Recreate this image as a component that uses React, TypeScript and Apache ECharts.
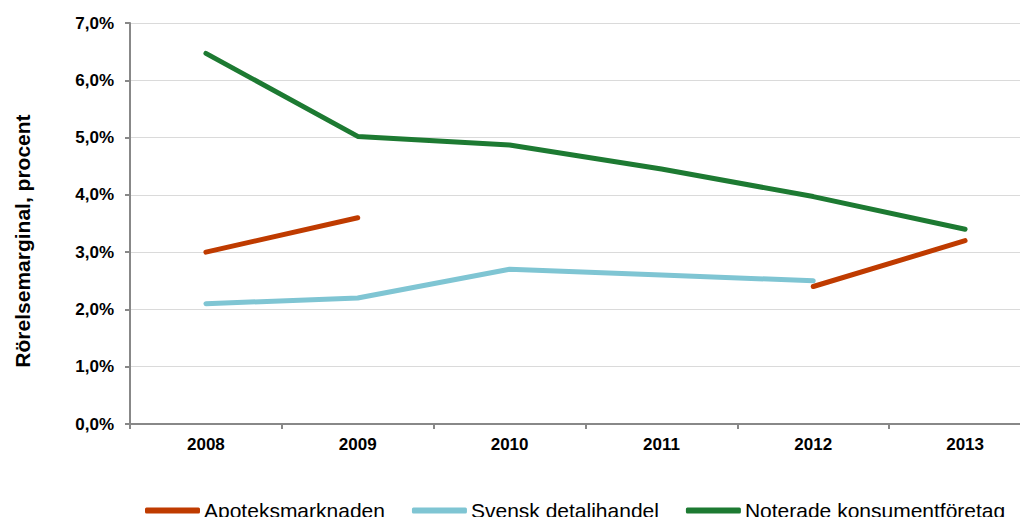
import React, { useEffect, useRef } from "react";
import * as echarts from "echarts";

const categories = ["2008", "2009", "2010", "2011", "2012", "2013"];
const apoteks = [3.0, 3.6, null, null, 2.4, 3.2];
const svensk = [2.1, 2.2, 2.7, 2.6, 2.5, null];
const noterade = [6.47, 5.02, 4.87, 4.45, 3.97, 3.4];
const seriesNames = ["Apoteksmarknaden", "Svensk detaljhandel", "Noterade konsumentföretag"];
const colors = ["#BF3B00", "#7FC5D3", "#1D7A32"];

export default function App() {
  const ref = useRef<HTMLDivElement>(null);
  useEffect(() => {
    const chart = echarts.init(ref.current!, null, { renderer: "svg" });
    const font = "'Liberation Sans', Arial, sans-serif";
    const mk = (name: string, data: (number | null)[], color: string) => ({
      name,
      type: "line",
      data,
      symbol: "none",
      connectNulls: false,
      lineStyle: { color, width: 5, cap: "round", join: "round" },
      itemStyle: { color },
    });
    chart.setOption({
      animation: false,
      backgroundColor: "#ffffff",
      textStyle: { fontFamily: font },
      grid: {
        left: 130,
        top: 23,
        bottom: 101,
        width: 911,
        containLabel: false,
        outerBoundsMode: "none",
      },
      legend: {
        top: 500,
        left: 145,
        padding: 0,
        icon: "roundRect",
        itemWidth: 55,
        itemHeight: 6,
        itemGap: 27,
        textStyle: { fontFamily: font, fontSize: 21, color: "#000", padding: [0, 0, 0, -1] },
        data: seriesNames,
      },
      xAxis: {
        type: "category",
        data: categories,
        boundaryGap: true,
        axisLine: { lineStyle: { color: "#888888", width: 2 } },
        axisTick: { show: true, length: 5, lineStyle: { color: "#888888", width: 2 } },
        axisLabel: { fontFamily: font, fontSize: 17, fontWeight: "bold", color: "#000", margin: 12 },
        splitLine: { show: false },
      },
      yAxis: {
        type: "value",
        min: 0,
        max: 7,
        interval: 1,
        axisLine: { show: true, lineStyle: { color: "#888888", width: 2 } },
        axisTick: { show: true, length: 5, lineStyle: { color: "#888888", width: 2 } },
        axisLabel: {
          fontFamily: font,
          fontSize: 17,
          fontWeight: "bold",
          color: "#000",
          margin: 16,
          formatter: (v: number) => v.toFixed(1).replace(".", ",") + "%",
        },
        splitLine: { show: true, lineStyle: { color: "#DADADA", width: 1 } },
      },
      graphic: [
        {
          type: "text",
          x: 22,
          y: 241,
          rotation: Math.PI / 2,
          style: {
            text: "Rörelsemarginal, procent",
            font: "bold 21px 'Liberation Sans', Arial, sans-serif",
            fill: "#000",
            textAlign: "center",
            textVerticalAlign: "middle",
          },
        },
      ],
      series: [
        mk(seriesNames[0], apoteks, colors[0]),
        mk(seriesNames[1], svensk, colors[1]),
        mk(seriesNames[2], noterade, colors[2]),
      ],
    });
    return () => chart.dispose();
  }, []);
  return <div ref={ref} style={{ width: 1028, height: 525, margin: -8 }} />;
}
